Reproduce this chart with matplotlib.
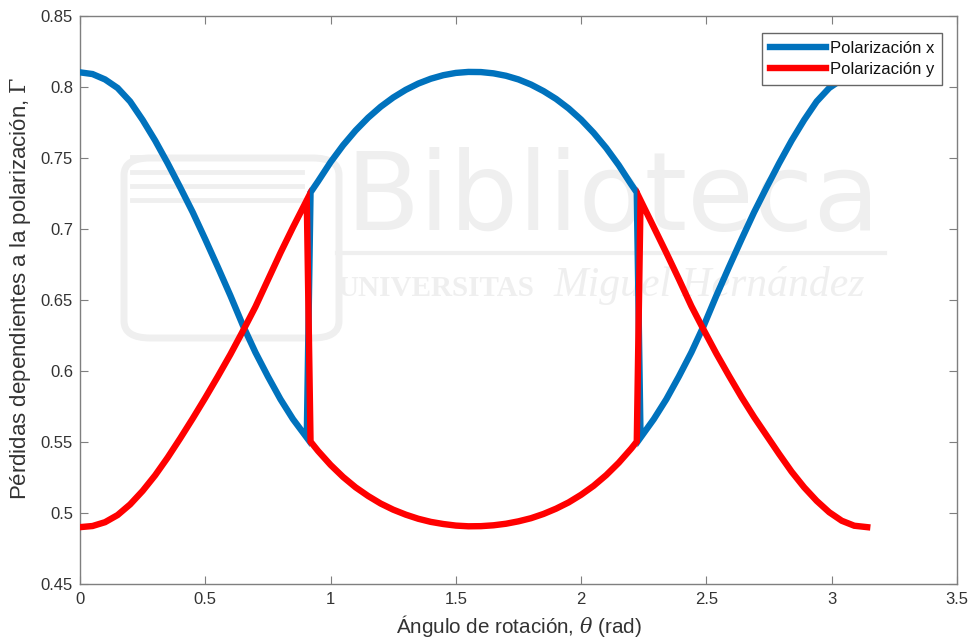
import matplotlib
matplotlib.use('Agg')
import matplotlib.pyplot as plt
from matplotlib.patches import FancyBboxPatch

# Rotation angle (rad): rising branch, central branch, falling branch
theta = ([0.0, 0.05, 0.10, 0.15, 0.20, 0.25, 0.30, 0.35, 0.40, 0.45, 0.50, 0.55, 0.60,
          0.65, 0.70, 0.75, 0.80, 0.85, 0.905]
         + [0.92, 0.95, 1.00, 1.05, 1.10, 1.15, 1.20, 1.25, 1.30, 1.35, 1.40, 1.45, 1.50,
            1.55, 1.60, 1.65, 1.70, 1.75, 1.80, 1.85, 1.90, 1.95, 2.00, 2.05, 2.10, 2.15,
            2.20, 2.222]
         + [2.237, 2.29, 2.34, 2.39, 2.44, 2.49, 2.54, 2.59, 2.64, 2.69, 2.74, 2.79, 2.84,
            2.89, 2.94, 2.99, 3.04, 3.09, 3.1416])

# Polarization dependent losses, x polarization
pdl_x = ([0.8100, 0.8088, 0.8050, 0.7990, 0.7895, 0.7765, 0.7620, 0.7460, 0.7290, 0.7115,
          0.6925, 0.6730, 0.6530, 0.6320, 0.6130, 0.5960, 0.5800, 0.5660, 0.5530]
         + [0.7255, 0.7333, 0.7468, 0.7587, 0.7691, 0.7781, 0.7858, 0.7923, 0.7977, 0.8021,
            0.8055, 0.8080, 0.8096, 0.8103, 0.8102, 0.8093, 0.8076, 0.8050, 0.8014, 0.7968,
            0.7913, 0.7846, 0.7767, 0.7674, 0.7568, 0.7447, 0.7311, 0.7255]
         + [0.5530, 0.5660, 0.5800, 0.5960, 0.6130, 0.6320, 0.6530, 0.6730, 0.6925, 0.7115,
            0.7290, 0.7460, 0.7620, 0.7765, 0.7895, 0.7990, 0.8050, 0.8088, 0.8100])

# Polarization dependent losses, y polarization
pdl_y = ([0.4900, 0.4908, 0.4935, 0.4985, 0.5060, 0.5155, 0.5265, 0.5390, 0.5525, 0.5665,
          0.5810, 0.5960, 0.6115, 0.6280, 0.6450, 0.6640, 0.6830, 0.7010, 0.7200]
         + [0.5502, 0.5436, 0.5338, 0.5253, 0.5180, 0.5119, 0.5066, 0.5023, 0.4988, 0.4959,
            0.4937, 0.4922, 0.4911, 0.4906, 0.4907, 0.4913, 0.4924, 0.4941, 0.4963, 0.4993,
            0.5030, 0.5074, 0.5128, 0.5191, 0.5266, 0.5353, 0.5453, 0.5502]
         + [0.7200, 0.7010, 0.6830, 0.6645, 0.6455, 0.6285, 0.6120, 0.5965, 0.5815, 0.5675,
            0.5545, 0.5415, 0.5290, 0.5180, 0.5085, 0.5005, 0.4945, 0.4910, 0.4900])

series_labels = ['Polarización x', 'Polarización y']

xticks = [0, 0.5, 1, 1.5, 2, 2.5, 3, 3.5]
xtick_labels = ['0', '0.5', '1', '1.5', '2', '2.5', '3', '3.5']
yticks = [0.45, 0.5, 0.55, 0.6, 0.65, 0.7, 0.75, 0.8, 0.85]
ytick_labels = ['0.45', '0.5', '0.55', '0.6', '0.65', '0.7', '0.75', '0.8', '0.85']

plt.rcParams['font.family'] = ['Liberation Sans', 'DejaVu Sans']
plt.rcParams['mathtext.fontset'] = 'dejavuserif'

W, H = 972, 644
fig = plt.figure(figsize=(W / 100, H / 100), dpi=100)
fig.patch.set_facecolor('white')
ax = fig.add_axes([80 / W, 1 - 584 / H, 877 / W, 568.5 / H])


def ax_pt(px, py):
    # pixel position on the canvas -> axes fraction
    return (px - 80) / 877, (584 - py) / 568.5


# faint library watermark behind the curves
wm = '#efefef'
ax.text(*ax_pt(345, 230), 'Biblioteca', transform=ax.transAxes,
        fontsize=78, color=wm, family='DejaVu Sans', ha='left', va='baseline', zorder=0)
ax.plot(*zip(ax_pt(337, 253), ax_pt(885, 253)), transform=ax.transAxes,
        color=wm, lw=3, zorder=0)
ax.text(*ax_pt(337, 296), 'UNIVERSITAS', transform=ax.transAxes,
        fontsize=21, color=wm, family='Liberation Serif', weight='bold',
        ha='left', va='baseline', zorder=0)
ax.text(*ax_pt(553, 296), 'Miguel Hernández', transform=ax.transAxes,
        fontsize=30, color=wm, family='Liberation Serif', style='italic',
        ha='left', va='baseline', zorder=0)
logo = FancyBboxPatch(ax_pt(124, 338), 215 / 877, 180 / 568.5,
                      boxstyle='round,pad=0,rounding_size=0.03', transform=ax.transAxes,
                      fill=False, ec=wm, lw=5, zorder=0)
ax.add_patch(logo)
for yy in [157, 172, 186, 200]:
    ax.plot(*zip(ax_pt(132, yy), ax_pt(302, yy)), transform=ax.transAxes,
            color=wm, lw=3.5, zorder=0)

ax.plot(theta, pdl_x, color='#0072BD', lw=4.6, label=series_labels[0],
        solid_joinstyle='miter', zorder=3)
ax.plot(theta, pdl_y, color='#FF0000', lw=4.6, label=series_labels[1],
        solid_joinstyle='miter', zorder=3)

ax.set_xlim(0, 3.5)
ax.set_ylim(0.45, 0.85)
ax.set_xticks(xticks)
ax.set_xticklabels(xtick_labels)
ax.set_yticks(yticks)
ax.set_yticklabels(ytick_labels)

axis_grey = '#7f7f7f'
for side in ['left', 'right', 'top', 'bottom']:
    ax.spines[side].set_color(axis_grey)
    ax.spines[side].set_linewidth(1.0)
ax.tick_params(which='both', direction='in', length=5.5, width=0.8, color=axis_grey,
               labelcolor='#333333', labelsize=12, top=True, right=True)
ax.tick_params(axis='x', pad=6)
ax.tick_params(axis='y', pad=5)

ax.set_xlabel(r'Ángulo de rotación, $\theta$ (rad)', fontsize=14.9, color='#333333', labelpad=4)
ax.set_ylabel(r'Pérdidas dependientes a la polarización, $\Gamma$', fontsize=16,
              color='#333333')
ax.yaxis.set_label_coords(-47 / 877, (584 - 288) / 568.5)

leg = ax.legend(loc='upper right', bbox_to_anchor=ax_pt(942, 33),
                borderaxespad=0, fontsize=12, handlelength=3.4, handletextpad=0.2,
                labelspacing=0.35, borderpad=0.48, fancybox=False, framealpha=1,
                edgecolor='#666666')
leg.get_frame().set_linewidth(1.0)
for t in leg.get_texts():
    t.set_color('#111111')

fig.savefig('out.png', dpi=100, facecolor='white')
